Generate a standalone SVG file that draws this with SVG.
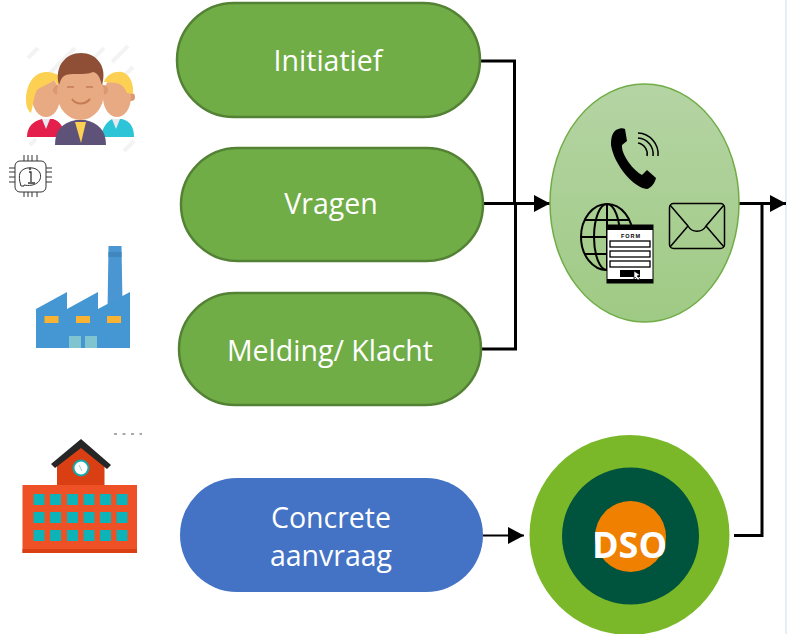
<svg xmlns="http://www.w3.org/2000/svg" width="787" height="634" viewBox="0 0 787 634">
<style>
.g{fill:#70ad47;stroke:#548235;stroke-width:2.5}
.t{font-family:"Open Sans","Liberation Sans",sans-serif;font-size:28.500px;fill:#fff;text-anchor:middle}
.c{fill:none;stroke:#000;stroke-width:3}
.w{fill:#fff;stroke:#000;stroke-width:1.3}
.i{fill:none;stroke:#000}
.s{fill:none;stroke:#f3f3f3;stroke-width:4}
</style>
<defs>
<linearGradient id="lg" x1="0" y1="0" x2="0" y2="1"><stop offset="0" stop-color="#b5d4a4"/><stop offset="1" stop-color="#9fca84"/></linearGradient>
<marker id="a" markerUnits="userSpaceOnUse" markerWidth="17" markerHeight="18" refX="16" refY="8.5" orient="auto"><path d="M0 0L16 8.5L0 17Z" fill="#000"/></marker>
</defs>
<rect id="edge" x="785" y="0" width="2" height="634" fill="#e6eef7"/>
<g id="connectors">
<path class="c" d="M480 61H514.500V203"/>
<path class="c" d="M481 349H515.500V203"/>
<path class="c" d="M483 203.500H550" marker-end="url(#a)"/>
<path class="c" style="stroke-width:2" d="M483 535.500H524" marker-end="url(#a)"/>
<path class="c" d="M739 203.500H786" marker-end="url(#a)"/>
<path class="c" d="M734 535.500H762V204"/>
</g>
<g id="node-initiatief"><rect class="g" x="177" y="3" width="303" height="114" rx="57"/><text class="t" x="328" y="71">Initiatief</text></g>
<g id="node-vragen"><rect class="g" x="181" y="148" width="302" height="113" rx="56.500"/><text class="t" x="331" y="214">Vragen</text></g>
<g id="node-melding"><rect class="g" x="179" y="293" width="302" height="112" rx="56"/><text class="t" x="330" y="361">Melding/ Klacht</text></g>
<g id="node-aanvraag"><rect x="180" y="478" width="303" height="114" rx="57" fill="#4472c4"/><text class="t" x="331" y="528">Concrete</text><text class="t" x="331" y="566">aanvraag</text></g>
<g id="node-channels">
<ellipse cx="644.500" cy="203" rx="94.500" ry="119" fill="url(#lg)" stroke="#70ad47" stroke-width="1.500"/>
<path d="M616 130C620 128 623 128 625 129L627 141L622 145C621 155 634 171 642 175L647 170L656 178C655 183 651 188 647 189C634 188 614 165 611 145C611 138 612 133 616 130Z" fill="#000"/>
<g class="i" stroke-width="1.500"><path d="M638 143A11 11 0 0 1 647 156"/><path d="M638 138A16 16 0 0 1 653 156"/><path d="M638 133A21 21 0 0 1 658 156"/></g>
<g class="i" stroke-width="2"><ellipse cx="607" cy="237" rx="26" ry="33"/><ellipse cx="607" cy="237" rx="13" ry="33"/><path d="M607 204V270M581 237H633M584 220H630M584 254H630"/></g>
<rect x="607" y="225" width="46" height="58" fill="#fff" stroke="#000" stroke-width="1"/>
<rect x="607" y="225" width="46" height="5" fill="#000"/>
<rect x="607" y="279" width="46" height="4" fill="#000"/>
<text x="631" y="238" font-family="'Liberation Sans',sans-serif" font-size="5.500" font-weight="bold" letter-spacing="1" text-anchor="middle">FORM</text>
<rect class="w" x="610" y="241" width="40" height="6"/><rect class="w" x="610" y="251" width="40" height="6"/><rect class="w" x="610" y="261" width="40" height="6"/>
<rect x="620" y="270" width="20" height="7" fill="#000"/>
<path d="M634 271L640 275L637 276L640 279L638 280L635 277L634 279Z" fill="#fff" stroke="#000" stroke-width=".6"/>
<g class="i" stroke-width="1.500"><rect x="669.500" y="203.500" width="55" height="45" rx="4"/><path d="M670 205L688 226C692 233 702 233 706 226L724 205M670 247L688 226M724 247L706 226"/></g>
</g>
<g id="node-dso">
<circle cx="629.500" cy="535" r="100" fill="#7ab829"/>
<circle cx="630.500" cy="536" r="68.500" fill="#00533c"/>
<circle cx="630.500" cy="536.500" r="35.500" fill="#f08000"/>
<text x="629.500" y="558" font-family="'Open Sans','Liberation Sans',sans-serif" font-size="36px" font-weight="bold" fill="#fff" text-anchor="middle">DSO</text>
</g>
<g id="icon-people">
<path class="s" d="M28 58L38 48M48 75L75 48M92 60L104 48M112 62L128 46M122 78L133 67M30 145L36 139M85 145L91 139M124 151L134 141"/>
<path d="M27 137C27 127 33 121 42 119H53C60 121 64 127 64 137Z" fill="#e41f4c"/>
<path d="M42 119L46 129L50 119Z" fill="#e8e8f0"/>
<ellipse cx="46" cy="97" rx="14" ry="20" fill="#e8aa83"/>
<path d="M46 72C33 72 26 86 26 100C26 106 28 111 31 113C33 106 34 95 37 90C42 86 50 84 54 80L60 88L62 112V78C58 74 52 72 46 72Z" fill="#fcd052"/>
<path d="M101 137C102 127 108 121 112 119H122C130 121 134 127 134 137Z" fill="#2cc5d8"/>
<path d="M112 119L116 129L120 119Z" fill="#e8e8f0"/>
<circle cx="131" cy="97" r="4" fill="#dc9870"/>
<ellipse cx="117" cy="97" rx="14" ry="20" fill="#e8aa83"/>
<path d="M104 82C106 74 116 71 122 72C130 74 134 84 133 94L127 93C125 88 122 84 116 83Z" fill="#fcd052"/>
<circle cx="58" cy="90" r="5" fill="#dc9870"/><circle cx="103" cy="90" r="5" fill="#dc9870"/>
<ellipse cx="80.500" cy="93" rx="23.500" ry="27" fill="#e8aa83"/>
<path d="M59 85C54 66 66 53 81 53C96 53 108 66 102 85C100 78 98 73 93 72C84 76 70 72 64 76C61 78 60 82 59 85Z" fill="#8e4f36"/>
<g class="i" style="stroke:#c57c55" stroke-width="1.500"><path d="M67 87H74M86 87H93"/><path d="M72 99C76 105 85 105 90 99" stroke-width="2"/></g>
<path d="M55 145C55 130 62 123 76 120H85C98 123 106 130 106 145Z" fill="#5e5278"/>
<path d="M75 122H86L81 143Z" fill="#fcd052"/>
</g>
<g id="icon-chip" class="i" stroke-width="1" style="stroke:#333">
<rect x="15" y="161" width="31" height="31" rx="5" fill="#fff"/>
<path d="M24 155V161M28 155V161M32 155V161M37 155V161M24 192V197M28 192V197M32 192V197M37 192V197M9 168H15M9 172H15M9 177H15M9 182H15M46 168H52M46 172H52M46 177H52M46 182H52"/>
<path d="M24 186L21 186C19 180 19 176 20 173C23 166 37 166 40 173C43 182 34 187 24 185Z"/>
<path d="M29 172H31V182M28 183H35" stroke-width="1.300"/><circle cx="30" cy="169" r=".8"/>
</g>
<g id="icon-factory">
<path d="M108.500 246H121.500L122.500 303L107.500 310Z" fill="#4a96d2"/>
<path d="M36 309L67 292V309L98 292V309L130 292V348H36Z" fill="#4597d3"/>
<rect x="108.500" y="252" width="13" height="5" fill="#3f87bd"/>
<rect x="44.500" y="316" width="14" height="7" fill="#f8b334"/><rect x="76" y="316" width="14" height="7" fill="#f8b334"/><rect x="107" y="316" width="14" height="7" fill="#f8b334"/>
<rect x="69" y="336" width="12" height="12" fill="#7fc4cf"/><rect x="85" y="336" width="12" height="12" fill="#7fc4cf"/>
</g>
<g id="icon-school">
<path d="M57 460L81 447L104.500 460V487H57Z" fill="#d93f12"/>
<path d="M51 464L81 439L111 465L107 469L81 448L55 468Z" fill="#262626"/>
<circle cx="81" cy="468" r="7.500" fill="#fff" stroke="#14a7a8" stroke-width="2"/>
<path d="M79 465L82 471" stroke="#9cc" stroke-width="1" fill="none"/>
<rect x="22.500" y="485" width="114.500" height="68" fill="#ee5125"/>
<rect x="22.500" y="549" width="114.500" height="4" fill="#d93f12"/>
<g fill="#0cb3b8">
<rect x="33.500" y="494" width="11" height="11"/><rect x="50" y="494" width="11" height="11"/><rect x="67" y="494" width="11" height="11"/><rect x="83.500" y="494" width="11" height="11"/><rect x="100" y="494" width="11" height="11"/><rect x="116.500" y="494" width="11" height="11"/>
<rect x="33.500" y="512" width="11" height="11"/><rect x="50" y="512" width="11" height="11"/><rect x="67" y="512" width="11" height="11"/><rect x="83.500" y="512" width="11" height="11"/><rect x="100" y="512" width="11" height="11"/><rect x="116.500" y="512" width="11" height="11"/>
<rect x="33.500" y="530" width="11" height="11"/><rect x="50" y="530" width="11" height="11"/><rect x="67" y="530" width="11" height="11"/><rect x="83.500" y="530" width="11" height="11"/><rect x="100" y="530" width="11" height="11"/><rect x="116.500" y="530" width="11" height="11"/>
</g>
<path d="M114 434H142" stroke="#555" stroke-width="1" stroke-dasharray="3 5.500" fill="none"/>
</g>
</svg>
